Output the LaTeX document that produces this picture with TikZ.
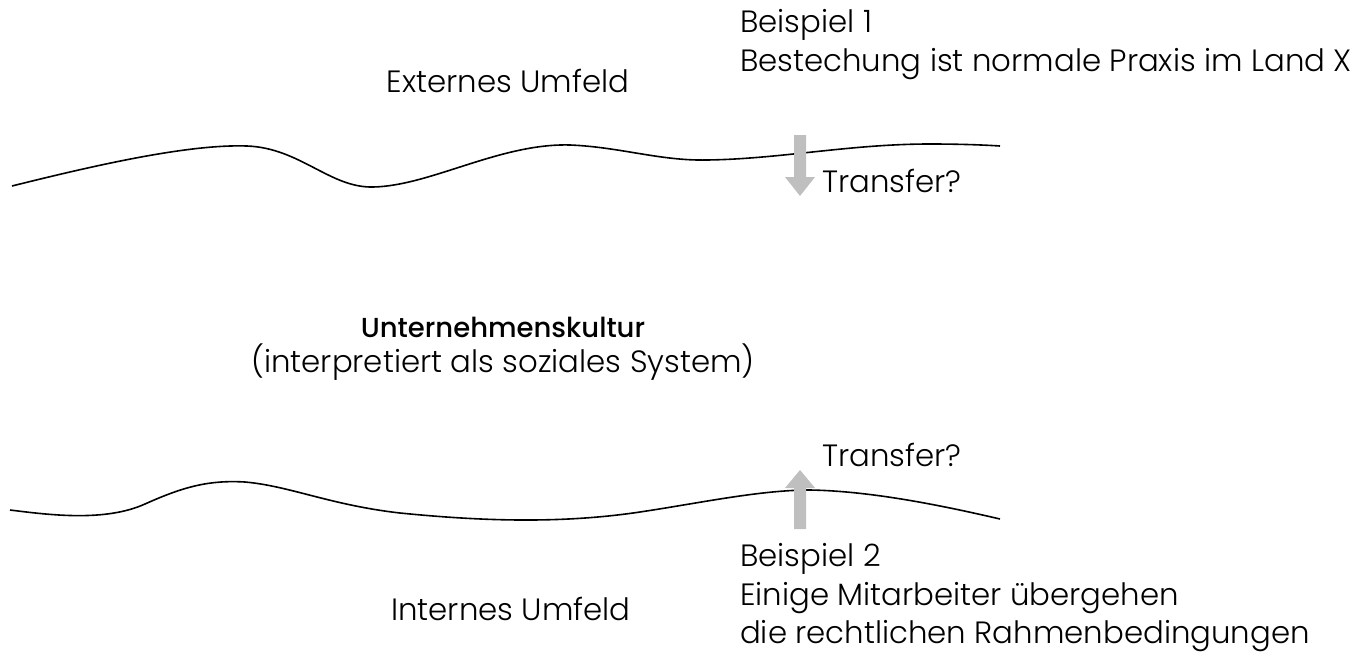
\documentclass[tikz,border=0pt]{standalone}
\usepackage{fontspec}
\setmainfont{Poppins Light}[BoldFont={Poppins Medium}]
\usetikzlibrary{arrows.meta}
\begin{document}
\begin{tikzpicture}[x=1pt,y=-1pt,
  txt/.style={inner sep=0pt,font=\fontsize{30.8}{36}\selectfont},
  boldtxt/.style={inner sep=0pt,font=\fontsize{27.5}{36}\selectfont\bfseries},
  wave/.style={line width=1.6pt,black},
  transfer/.style={draw=none,fill=black!25,line width=0pt},
]
\useasboundingbox (0,0) rectangle (1363,656);
% top wave
\draw[wave] (12,186) .. controls (100,164) and (190,144) .. (247,146)
  .. controls (300,148) and (330,188) .. (373,187)
  .. controls (430,186) and (500,143) .. (570,145)
  .. controls (620,147) and (660,161) .. (707,160)
  .. controls (780,159) and (850,144) .. (930,144)
  .. controls (960,144) and (985,145) .. (1000,146);
% bottom wave
\draw[wave] (10,510) .. controls (50,515) and (105,522) .. (145,504)
  .. controls (185,486) and (210,480) .. (245,482)
  .. controls (290,486) and (330,505) .. (400,513)
  .. controls (480,521) and (560,524) .. (640,512)
  .. controls (700,503) and (760,490) .. (810,490)
  .. controls (870,491) and (940,505) .. (1000,519);
% arrows
\fill[transfer] (794,135) -- (806,135) -- (806,177) -- (815,177) -- (800,196) -- (785,177) -- (794,177) -- cycle;
\fill[transfer] (794,529) -- (806,529) -- (806,488) -- (815,488) -- (800,470) -- (785,488) -- (794,488) -- cycle;
% texts
\node[txt,anchor=base west] (b1) at (740,32) {Beispiel 1};
\node[txt,anchor=base west] (b1t) at (740,71) {Bestechung ist normale Praxis im Land X};
\node[txt,anchor=base] (ext) at (508,92) {Externes Umfeld};
\node[txt,anchor=base west] (t1) at (822,192) {Transfer?};
\node[boldtxt,anchor=base] (uk) at (503,337) {Unternehmenskultur};
\node[txt,anchor=base] (uk2) at (503,372) {(interpretiert als soziales System)};
\node[txt,anchor=base west] (t2) at (822,466) {Transfer?};
\node[txt,anchor=base west] (b2) at (740,566) {Beispiel 2};
\node[txt,anchor=base west] (b2a) at (740,605) {Einige Mitarbeiter übergehen};
\node[txt,anchor=base west] (b2b) at (740,643) {die rechtlichen Rahmenbedingungen};
\node[txt,anchor=base] (int) at (511,620) {Internes Umfeld};
\end{tikzpicture}
\end{document}
